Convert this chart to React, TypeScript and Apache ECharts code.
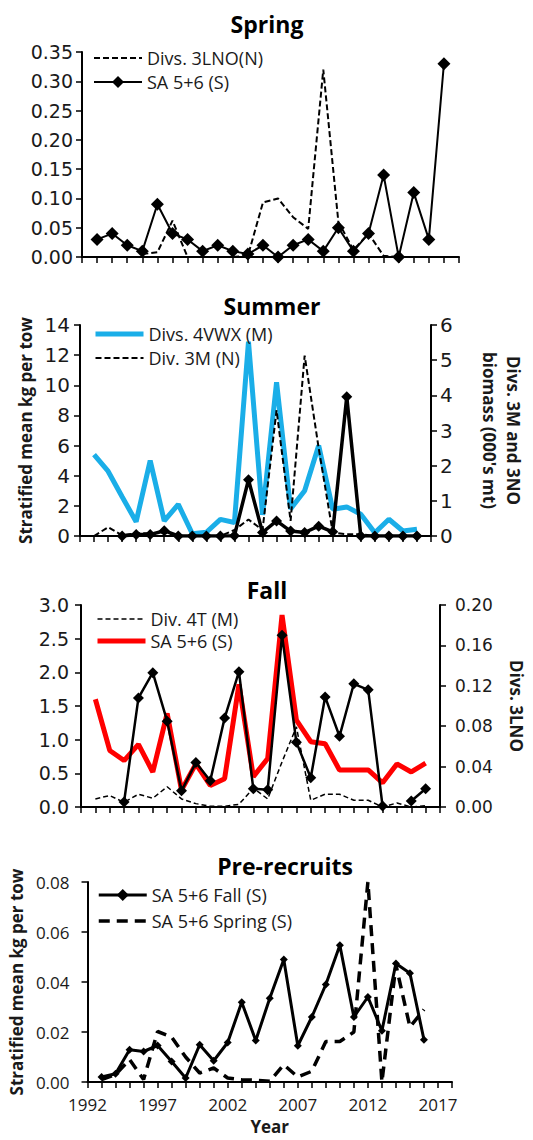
import React, { useEffect, useRef } from 'react';
import * as echarts from 'echarts';

const FONT = "'Open Sans', sans-serif";
const WIDE = "'DejaVu Sans', sans-serif";
const TXT = '#1a1a1a';

const years = [1993, 1994, 1995, 1996, 1997, 1998, 1999, 2000, 2001, 2002, 2003, 2004, 2005, 2006, 2007, 2008, 2009, 2010, 2011, 2012, 2013, 2014, 2015, 2016];

// Spring
const springSA = [0.03, 0.04, 0.02, 0.01, 0.09, 0.04, 0.03, 0.01, 0.02, 0.01, 0.005, 0.02, 0.0, 0.02, 0.03, 0.01, 0.05, 0.01, 0.04, 0.14, 0.0, 0.11, 0.03, 0.33];
const spring3LNO = [null, null, null, 0.005, 0.008, 0.062, 0, 0, 0, 0, 0.002, 0.093, 0.1, 0.068, 0.048, 0.32, 0.06, 0.012, 0.04, 0.002, 0, 0, null, null];

// Summer
const summer4VWX = [5.4, 4.3, 2.6, 0.95, 5.0, 1.0, 2.1, 0.15, 0.25, 1.1, 0.9, 12.9, 1.4, 10.2, 1.8, 3.0, 6.0, 1.78, 1.93, 1.44, 0.22, 1.11, 0.33, 0.45];
const summer3M = [0, 0.25, 0.02, 0.08, 0.08, 0.1, 0, 0, 0, 0, 0.17, 0.47, 0.17, 3.58, 0.43, 5.13, 2.5, 0.1, 0.05, 0.05, 0, null, null, null];
const summer3NO = [null, null, 0, 0.04, 0.04, 0.15, 0, 0, 0, 0, 0.01, 1.6, 0.1, 0.43, 0.14, 0.1, 0.28, 0.12, 3.96, 0, 0, 0, 0, 0];

// Fall
const fall4T = [0.12, 0.17, 0.07, 0.19, 0.13, 0.3, 0.12, 0.05, 0.01, 0.01, 0.04, 0.28, 0.12, 0.67, 1.19, 0.1, 0.19, 0.19, 0.1, 0.1, 0.0, 0.06, 0.0, 0.02];
const fallSA = [1.6, 0.84, 0.69, 0.93, 0.52, 1.39, 0.25, 0.64, 0.32, 0.42, 1.82, 0.45, 0.72, 2.85, 1.29, 0.97, 0.94, 0.55, 0.55, 0.55, 0.36, 0.64, 0.52, 0.65];
const fall3LNO = [null, null, 0.005, 0.108, 0.133, 0.085, 0.016, 0.044, 0.026, 0.088, 0.134, 0.018, 0.017, 0.17, 0.064, 0.029, 0.109, 0.07, 0.122, 0.116, 0.001, null, 0.006, 0.018];

// Pre-recruits
const preFall = [0.002, 0.0033, 0.0129, 0.0122, 0.0146, 0.0082, 0.0016, 0.0149, 0.0085, 0.0158, 0.0319, 0.0166, 0.0335, 0.049, 0.0145, 0.026, 0.039, 0.0547, 0.026, 0.034, 0.0205, 0.0474, 0.0435, 0.0169];
const preSpring = [0.001, 0.003, 0.009, 0.001, 0.0202, 0.018, 0.01, 0.0036, 0.0056, 0.0016, 0.0009, 0.0007, 0.0003, 0.0069, 0.002, 0.0043, 0.0162, 0.0162, 0.02, 0.08, 0.0, 0.0468, 0.022, 0.029];

const titles = ['Spring', 'Summer', 'Fall', 'Pre-recruits'];
const legendLabels: Record<string, string> = {
  sp3LNO: 'Divs. 3LNO(N)',
  spSA: 'SA 5+6 (S)',
  su4VWX: 'Divs. 4VWX (M)',
  su3M: 'Div. 3M (N)',
  fa4T: 'Div. 4T (M)',
  faSA: 'SA 5+6 (S)',
  prFall: 'SA 5+6 Fall (S)',
  prSpring: 'SA 5+6 Spring (S)',
};

const pairs = (vals: (number | null)[]) => years.map((y, i) => [y, vals[i]]);

const axisLine = { show: true, lineStyle: { color: '#000', width: 2 } };
const axisTick = { show: true, length: 6, lineStyle: { color: '#000', width: 1.5 } };

function xAxis(gridIndex: number, max: number, showLabels: boolean): any {
  return {
    type: 'value', gridIndex, min: 1992, max, interval: 1,
    axisLine, axisTick, splitLine: { show: false },
    axisLabel: showLabels
      ? { fontSize: 17, fontFamily: FONT, color: TXT, margin: 14, formatter: (v: number) => ((v - 1992) % 5 === 0 ? String(v) : '') }
      : { show: false },
  };
}

function yAxis(gridIndex: number, max: number, interval: number, digits: number, position: string,
  font: string, size: number, margin: number, extra: any = {}): any {
  return {
    type: 'value', gridIndex, min: 0, max, interval, position,
    axisLine, axisTick, splitLine: { show: false },
    axisLabel: { fontSize: size, fontFamily: font, color: TXT, margin, formatter: (v: number) => v.toFixed(digits) },
    ...extra,
  };
}

const nameStyle = { fontSize: 17, fontWeight: 'bold', fontFamily: FONT, color: TXT };

function line(name: string, xi: number, yi: number, data: any, opts: any): any {
  return {
    type: 'line', name, xAxisIndex: xi, yAxisIndex: yi, data: pairs(data),
    connectNulls: false, symbol: 'none', ...opts,
  };
}

// legend entries: plain line (no marker) or line with the series marker
const plain = (name: string, width: number) => ({ name, itemStyle: { opacity: 0 }, lineStyle: { width } });
const marked = (name: string, width: number) => ({ name, lineStyle: { width } });

function legend(items: any[], left: number, top: number, gap: number): any {
  return {
    data: items, orient: 'vertical', left, top, padding: 0, itemGap: gap,
    itemWidth: 48, itemHeight: 15, selectedMode: false,
    textStyle: { fontSize: 18, fontFamily: FONT, color: TXT },
    formatter: (n: string) => legendLabels[n],
  };
}

export default function App() {
  const ref = useRef<HTMLDivElement>(null);
  useEffect(() => {
    document.body.style.margin = '0';
    const chart = echarts.init(ref.current!, null, { renderer: 'svg' });
    const titleTops = [12, 294, 578, 854];
    const titleLefts = [267, 272, 267, 285];
    const option: any = {
      animation: false,
      backgroundColor: '#fff',
      textStyle: { fontFamily: FONT },
      title: titles.map((t, i) => ({
        text: t, left: titleLefts[i], top: titleTops[i], textAlign: 'center', padding: 0,
        textStyle: { fontSize: 23, fontWeight: 'bold', fontFamily: FONT, color: '#000' },
      })),
      grid: [
        { left: 82, top: 52, width: 377, height: 205 },
        { left: 80, top: 325, width: 374, height: 211 },
        { left: 81, top: 605, width: 374, height: 202 },
        { left: 82, top: 882, width: 370, height: 200 },
      ],
      legend: [
        legend([plain('sp3LNO', 2), marked('spSA', 2)], 93, 49, 6),
        legend([plain('su4VWX', 5), plain('su3M', 2)], 93, 325, 6),
        legend([plain('fa4T', 1.5), plain('faSA', 5)], 95, 610, 4),
        legend([marked('prFall', 3), plain('prSpring', 3.5)], 97, 886, 8),
      ],
      xAxis: [xAxis(0, 2017, false), xAxis(1, 2017, false), xAxis(2, 2017, false), xAxis(3, 2018, true)],
      yAxis: [
        yAxis(0, 0.35, 0.05, 2, 'left', WIDE, 19, 9),
        yAxis(1, 14, 2, 0, 'left', WIDE, 20, 10, {
          name: 'Stratified mean kg per tow', nameLocation: 'middle', nameRotate: 90, nameGap: 44, nameTextStyle: nameStyle,
        }),
        yAxis(1, 6, 1, 0, 'right', WIDE, 20, 9, {
          name: "Divs. 3M and 3NO\nbiomass (000's mt)", nameLocation: 'middle', nameRotate: -90, nameGap: 46,
          nameTextStyle: { ...nameStyle, lineHeight: 24 },
        }),
        yAxis(2, 3, 0.5, 1, 'left', WIDE, 19, 12),
        yAxis(2, 0.2, 0.04, 2, 'right', WIDE, 17, 15, {
          name: 'Divs. 3LNO', nameLocation: 'middle', nameRotate: -90, nameGap: 68, nameTextStyle: nameStyle,
        }),
        yAxis(3, 0.08, 0.02, 2, 'left', FONT, 17, 18, {
          name: 'Stratified mean kg per tow', nameLocation: 'middle', nameRotate: 90, nameGap: 56, nameTextStyle: nameStyle,
        }),
      ],
      series: [
        line('sp3LNO', 0, 0, spring3LNO, { lineStyle: { color: '#000', width: 2, type: [6, 3] }, itemStyle: { color: '#000' } }),
        line('spSA', 0, 0, springSA, {
          symbol: 'diamond', symbolSize: 13, lineStyle: { color: '#000', width: 2 }, itemStyle: { color: '#000' },
        }),
        line('su4VWX', 1, 1, summer4VWX, { lineStyle: { color: '#1aaee8', width: 5 }, itemStyle: { color: '#1aaee8' } }),
        line('su3M', 1, 2, summer3M, { lineStyle: { color: '#000', width: 2, type: [6, 3] }, itemStyle: { color: '#000' } }),
        line('su3NO', 1, 2, summer3NO, {
          symbol: 'diamond', symbolSize: 11, lineStyle: { color: '#000', width: 3.5 }, itemStyle: { color: '#000' },
        }),
        line('faSA', 2, 3, fallSA, { lineStyle: { color: '#ff0000', width: 5 }, itemStyle: { color: '#ff0000' } }),
        line('fa4T', 2, 3, fall4T, { lineStyle: { color: '#000', width: 1.5, type: [5, 3] }, itemStyle: { color: '#000' } }),
        line('fa3LNO', 2, 4, fall3LNO, {
          symbol: 'diamond', symbolSize: 11, lineStyle: { color: '#000', width: 2.5 }, itemStyle: { color: '#000' },
        }),
        line('prFall', 3, 5, preFall, {
          symbol: 'diamond', symbolSize: 8, lineStyle: { color: '#000', width: 3 }, itemStyle: { color: '#000' },
        }),
        line('prSpring', 3, 5, preSpring, { lineStyle: { color: '#000', width: 3.5, type: [11, 7] }, itemStyle: { color: '#000' } }),
      ],
    };
    option.xAxis[3].name = 'Year';
    option.xAxis[3].nameLocation = 'middle';
    option.xAxis[3].nameGap = 36;
    option.xAxis[3].nameTextStyle = { ...nameStyle, fontSize: 17 };
    chart.setOption(option);
    return () => chart.dispose();
  }, []);
  return <div ref={ref} style={{ position: 'absolute', left: 0, top: 0, width: 533, height: 1140, background: '#fff' }} />;
}
